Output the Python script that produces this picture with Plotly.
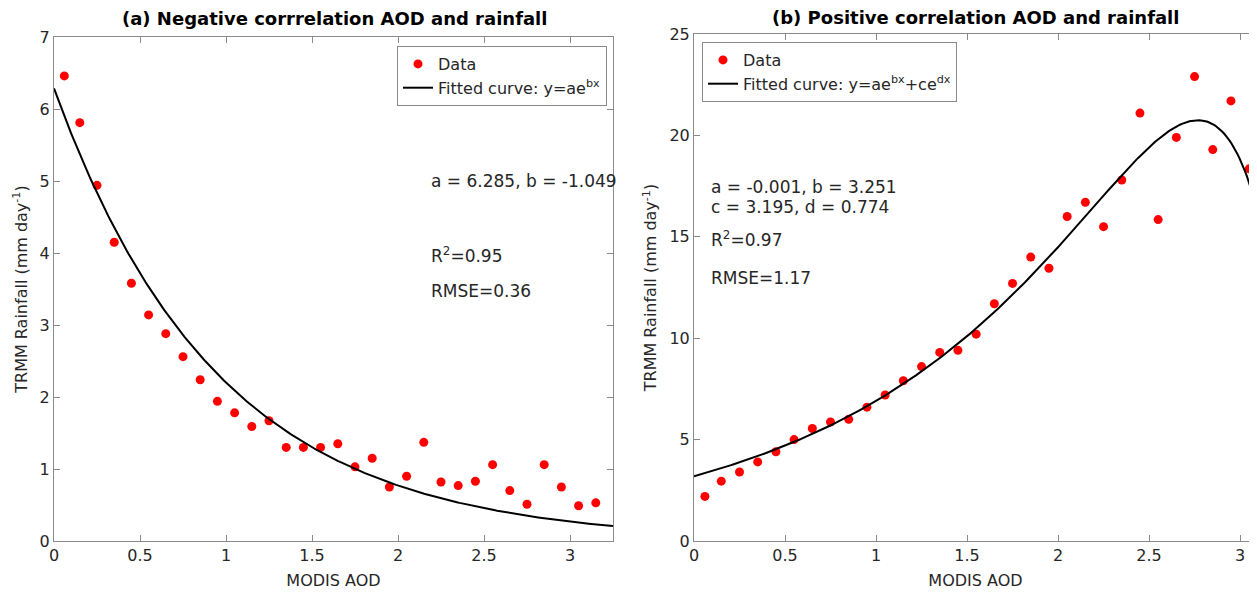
import numpy as np
import plotly.graph_objects as go

# ---- data ----
aod_a = [0.06, 0.15, 0.25, 0.35, 0.45, 0.55, 0.65, 0.75, 0.85, 0.95, 1.05, 1.15, 1.25, 1.35, 1.45, 1.55,
         1.65, 1.75, 1.85, 1.95, 2.05, 2.15, 2.25, 2.35, 2.45, 2.55, 2.65, 2.75, 2.85, 2.95, 3.05, 3.15]
rain_a = [6.46, 5.81, 4.94, 4.15, 3.58, 3.14, 2.88, 2.56, 2.24, 1.94, 1.78, 1.59, 1.67, 1.30, 1.30, 1.30,
          1.35, 1.03, 1.15, 0.75, 0.90, 1.37, 0.82, 0.77, 0.83, 1.06, 0.70, 0.51, 1.06, 0.75, 0.49, 0.53]

aod_b = [0.06, 0.15, 0.25, 0.35, 0.45, 0.55, 0.65, 0.75, 0.85, 0.95, 1.05, 1.15, 1.25, 1.35, 1.45, 1.55,
         1.65, 1.75, 1.85, 1.95, 2.05, 2.15, 2.25, 2.35, 2.45, 2.55, 2.65, 2.75, 2.85, 2.95, 3.05]
rain_b = [2.2, 2.95, 3.4, 3.9, 4.4, 5.0, 5.55, 5.87, 6.0, 6.6, 7.2, 7.9, 8.6, 9.3, 9.4, 10.2,
          11.7, 12.7, 14.0, 13.45, 16.0, 16.7, 15.5, 17.8, 21.1, 15.85, 19.9, 22.9, 19.3, 21.7, 18.35]

# fit parameters shown on the chart (panel b 'a' estimated from the curve shape; shown rounded)
fit_a = dict(a=6.285, b=-1.049)
fit_b = dict(a=-0.0008, b=3.251, c=3.195, d=0.774)

xa_range = [0, 3.25]
xb_range = [0, 3.093]

xa = np.linspace(xa_range[0], xa_range[1], 300)
ya = fit_a["a"] * np.exp(fit_a["b"] * xa)
xb = np.linspace(xb_range[0], xb_range[1] + 0.05, 300)
yb = fit_b["a"] * np.exp(fit_b["b"] * xb) + fit_b["c"] * np.exp(fit_b["d"] * xb)

W, H = 1257, 592
OFF = 8  # page body margin offset
FONT = "DejaVu Sans"
TXT = "#262626"
AX = "#8a8a8a"

def px(x):
    return (x - OFF) / W

def py(y):
    return 1 - (y - OFF) / H

fig = go.Figure()
fig.add_trace(go.Scatter(x=aod_a, y=rain_a, mode="markers", name="Data",
                         marker=dict(color="#ff0000", size=9), xaxis="x", yaxis="y", legend="legend"))
fig.add_trace(go.Scatter(x=xa, y=ya, mode="lines", name="Fitted curve: y=ae<sup>bx</sup>",
                         line=dict(color="black", width=2), xaxis="x", yaxis="y", legend="legend"))
fig.add_trace(go.Scatter(x=aod_b, y=rain_b, mode="markers", name="Data",
                         marker=dict(color="#ff0000", size=9), xaxis="x2", yaxis="y2", legend="legend2"))
fig.add_trace(go.Scatter(x=xb, y=yb, mode="lines", name="Fitted curve: y=ae<sup>bx</sup>+ce<sup>dx</sup>",
                         line=dict(color="black", width=2), xaxis="x2", yaxis="y2", legend="legend2"))

axis_common = dict(showline=True, linecolor=AX, linewidth=1, ticks="inside", ticklen=6, tickcolor=AX,
                   showgrid=False, zeroline=False, automargin=False,
                   tickfont=dict(family=FONT, size=16, color=TXT),
                   title_font=dict(family=FONT, size=16, color=TXT))

legend_common = dict(bgcolor="white", bordercolor=AX, borderwidth=1,
                     font=dict(family=FONT, size=16, color=TXT), tracegroupgap=0, itemwidth=30)

fig.update_layout(
    width=W, height=H, margin=dict(l=0, r=0, t=0, b=0, autoexpand=False),
    paper_bgcolor="white", plot_bgcolor="white",
    font=dict(family=FONT, size=16, color=TXT),
    xaxis=dict(domain=[px(54), px(613)], range=xa_range, dtick=0.5, anchor="y", mirror="ticks",
               title=dict(text="MODIS AOD", standoff=10), **axis_common),
    yaxis=dict(domain=[py(541), py(37)], range=[0, 7], dtick=1, anchor="x", mirror="ticks",
               title=dict(text="TRMM Rainfall (mm day<sup>-1</sup>)", standoff=8), **axis_common),
    xaxis2=dict(domain=[px(694), px(1257)], range=xb_range, dtick=0.5, anchor="y2", mirror="ticks",
                title=dict(text="MODIS AOD", standoff=10), **axis_common),
    yaxis2=dict(domain=[py(541), py(34)], range=[0, 25], dtick=5, anchor="x2", mirror=False,
                title=dict(text="TRMM Rainfall (mm day<sup>-1</sup>)", standoff=8), **axis_common),
    legend=dict(x=px(607), y=py(46), xanchor="right", yanchor="top", **legend_common),
    legend2=dict(x=px(702), y=py(42), xanchor="left", yanchor="top", **legend_common),
    showlegend=True,
)

def ann(text, x, y, size=17, bold=False, xanchor="left"):
    fig.add_annotation(text=f"<b>{text}</b>" if bold else text, xref="paper", yref="paper",
                       x=px(x), y=py(y), xanchor=xanchor, yanchor="middle", showarrow=False,
                       font=dict(family=FONT, size=size, color="black" if bold else TXT))

ann("(a) Negative corrrelation AOD and rainfall", 334, 19, size=18, bold=True, xanchor="center")
ann("(b) Positive correlation AOD and rainfall", 975, 18, size=18, bold=True, xanchor="center")

ann("a = 6.285, b = -1.049", 429, 181)
ann("R<sup>2</sup>=0.95", 429, 255)
ann("RMSE=0.36", 429, 291)

ann("a = -0.001, b = 3.251", 709, 187)
ann("c = 3.195, d = 0.774", 709, 207)
ann("R<sup>2</sup>=0.97", 709, 239)
ann("RMSE=1.17", 709, 278)

fig.write_html("out.html")
